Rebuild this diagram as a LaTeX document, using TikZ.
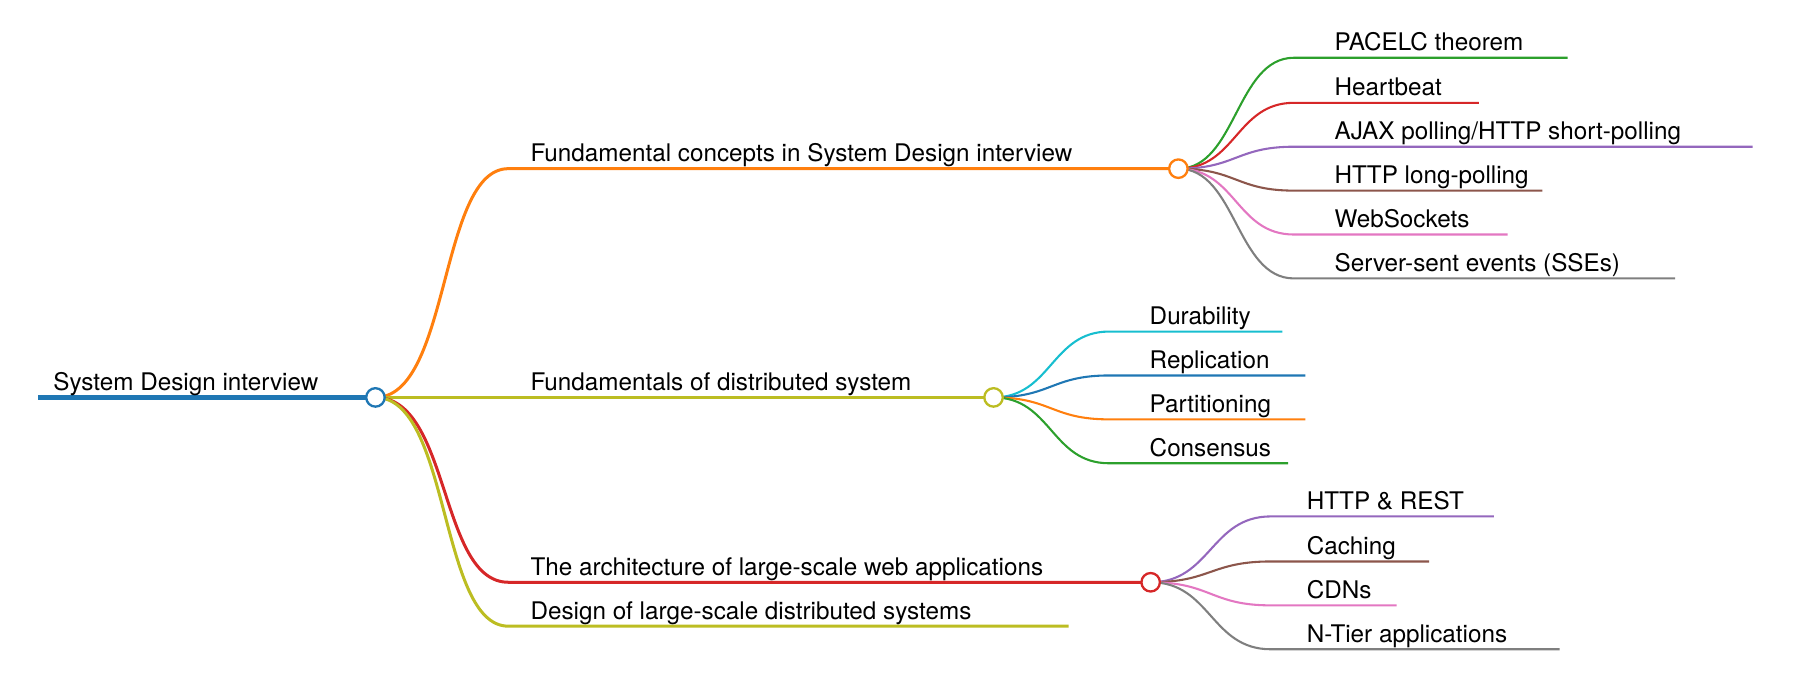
\documentclass[tikz,border=0pt]{standalone}
\usepackage{fontspec}
\setmainfont{TeX Gyre Heros}
\begin{document}
\begin{tikzpicture}[x=1pt,y=-1pt,
  lbl/.style={anchor=base west,inner sep=0pt,font=\fontsize{21}{24}\selectfont},
  dot/.style={circle,draw,fill=white,line width=2pt,minimum size=16pt,inner sep=0pt},
  l1/.style={line width=2.6pt},
  l2/.style={line width=1.8pt}]
\definecolor{tO}{HTML}{FF7F0E}\definecolor{tY}{HTML}{BCBD22}\definecolor{tR}{HTML}{D62728}
\definecolor{tG}{HTML}{2CA02C}\definecolor{tP}{HTML}{9467BD}\definecolor{tB}{HTML}{8C564B}
\definecolor{tK}{HTML}{E377C2}\definecolor{tA}{HTML}{7F7F7F}\definecolor{tC}{HTML}{17BECF}
\definecolor{tL}{HTML}{1F77B4}
\useasboundingbox (0,0) rectangle (1565,594);
% root
\coordinate (r0) at (33,344);
\draw[tL,line width=5pt] (r0) -- (318,344);
\node[lbl] (rt) at (46,338) {System Design interview};
% level 1
\coordinate (a0) at (440,146); \coordinate (b0) at (440,344);
\coordinate (c0) at (440,504); \coordinate (d0) at (440,542);
\coordinate (dE) at (925,542);
\draw[l1,tO] (325,344) .. controls (390,344) and (380,146) .. (a0) -- (1012,146);
\draw[l1,tY] (325,344) -- (852,344);
\draw[l1,tR] (325,344) .. controls (390,344) and (380,504) .. (c0) -- (988,504);
\draw[l1,tY] (325,344) .. controls (390,344) and (380,542) .. (d0) -- (dE);
\node[lbl] (ta) at (459,140) {Fundamental concepts in System Design interview};
\node[lbl] (tb) at (459,338) {Fundamentals of distributed system};
\node[lbl] (tc) at (459,498) {The architecture of large-scale web applications};
\node[lbl] (td) at (459,536) {Design of large-scale distributed systems};
% level 2 : A
\foreach \y/\e/\c/\t in {50/1357/tG/PACELC theorem,89/1280/tR/Heartbeat,127/1517/tP/AJAX polling\slash HTTP short-polling,165/1335/tB/HTTP long-polling,203/1305/tK/WebSockets,241/1450/tA/Server-sent events (SSEs)}{
  \draw[l2,\c] (1020,146) .. controls (1070,146) and (1070,\y) .. (1120,\y) -- (\e,\y);
  \node[lbl] at (1155,\y-6) {\t};}
% level 2 : B
\foreach \y/\e/\c/\t in {287/1110/tC/Durability,325/1130/tL/Replication,363/1130/tO/Partitioning,401/1115/tG/Consensus}{
  \draw[l2,\c] (860,344) .. controls (910,344) and (910,\y) .. (960,\y) -- (\e,\y);
  \node[lbl] at (995,\y-6) {\t};}
% level 2 : C
\foreach \y/\e/\c/\t in {447/1293/tP/HTTP \& REST,486/1237/tB/Caching,524/1209/tK/CDNs,562/1350/tA/N-Tier applications}{
  \draw[l2,\c] (996,504) .. controls (1048,504) and (1048,\y) .. (1100,\y) -- (\e,\y);
  \node[lbl] at (1131,\y-6) {\t};}
% circles
\node[dot,draw=tL] (r) at (325,344) {};
\node[dot,draw=tO] (a) at (1020,146) {};
\node[dot,draw=tY] (b) at (860,344) {};
\node[dot,draw=tR] (c) at (996,504) {};
\end{tikzpicture}
\end{document}
